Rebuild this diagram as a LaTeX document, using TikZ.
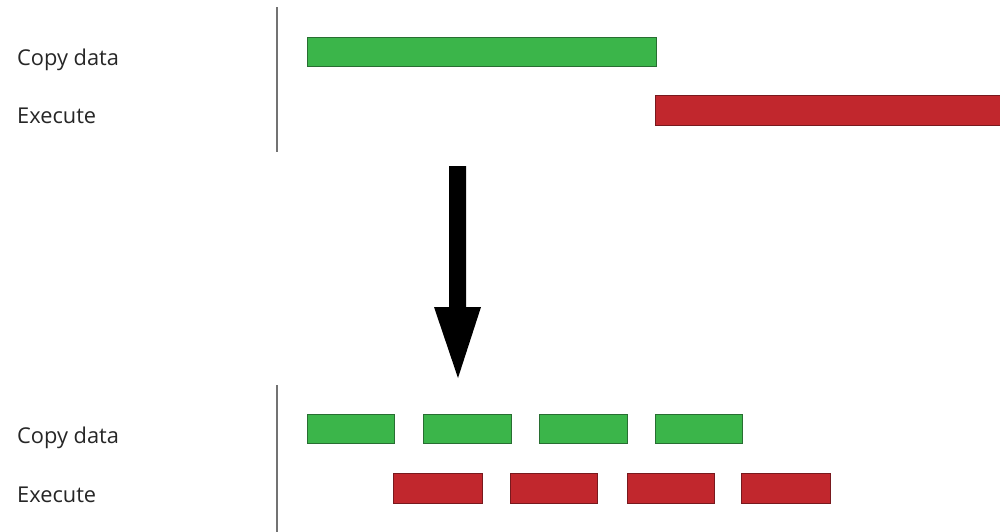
\documentclass[tikz,border=0pt]{standalone}
\usepackage{fontspec}
\setmainfont{Open Sans}
\begin{document}
\begin{tikzpicture}[x=1pt,y=-1pt,
  lbl/.style={anchor=base west,inner sep=0pt,text=black!85,font=\fontsize{21.8}{24}\selectfont},
  axis/.style={draw=black!55,line width=2.4pt},
  copybar/.style={fill={rgb,255:red,59;green,181;blue,74},draw={rgb,255:red,40;green,110;blue,50},line width=0.8pt},
  execbar/.style={fill={rgb,255:red,193;green,39;blue,45},draw={rgb,255:red,120;green,25;blue,30},line width=0.8pt}]
\useasboundingbox (0,0) rectangle (1000,531);
\clip (0,0) rectangle (1000,531);

% sequential schedule
\node[lbl] (c1) at (17,65) {Copy data};
\node[lbl] (e1) at (17,123) {Execute};
\draw[axis] (277,7) -- (277,152);
\path[copybar] (307,37) rectangle (656,66);
\path[execbar] (655,95) rectangle (1003,125);

% down arrow
\fill[black] (449,166) -- (466,166) -- (466,307) -- (481,307) -- (458,378)
  -- (434,307) -- (449,307) -- cycle;

% overlapped schedule
\node[lbl] (c2) at (17,443) {Copy data};
\node[lbl] (e2) at (17,502) {Execute};
\draw[axis] (277,385) -- (277,533);
\foreach \a/\b in {307/394, 423/511, 539/627, 655/742}
  \path[copybar] (\a,414) rectangle (\b,443);
\foreach \a/\b in {393/482, 510/597, 627/714, 741/830}
  \path[execbar] (\a,473) rectangle (\b,503);
\end{tikzpicture}
\end{document}
